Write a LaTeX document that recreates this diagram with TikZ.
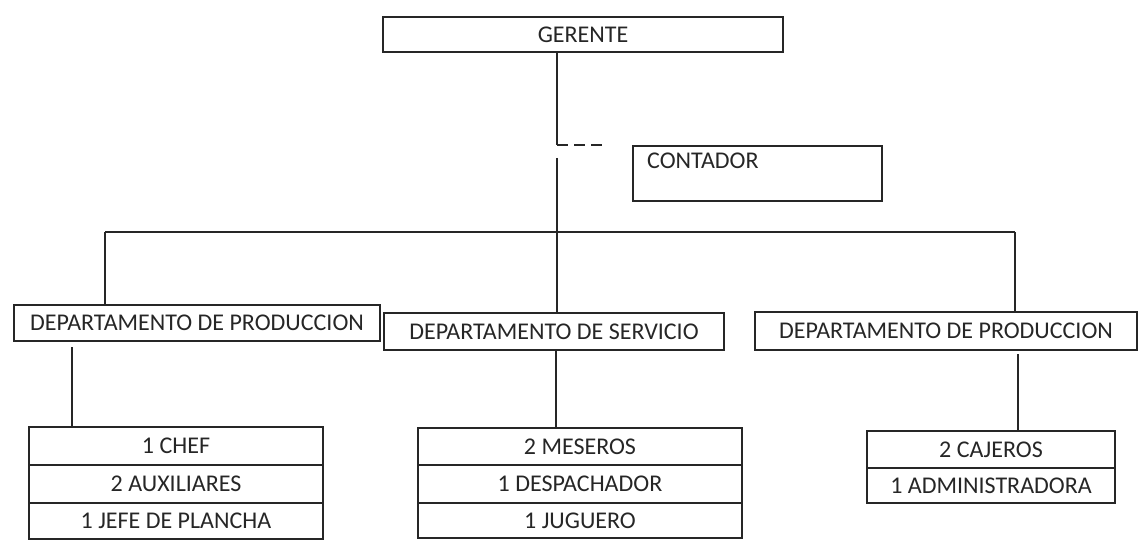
\documentclass[tikz,border=0pt]{standalone}
\usepackage{fontspec}
\setmainfont{Carlito}
\begin{document}
\begin{tikzpicture}[x=1pt,y=-1pt,
  box/.style={draw=black!85, line width=1.8pt, rectangle, inner sep=0pt, outer sep=0pt,
    font=\fontsize{24}{28}\selectfont, text=black!85},
  conn/.style={draw=black!85, line width=1.8pt}]
\useasboundingbox (0,0) rectangle (1139,548);
% top
\node[box, minimum width=400pt, minimum height=35pt] (ger) at (583,34.5) {GERENTE};
\node[box, minimum width=249pt, minimum height=55pt,
  label={[anchor=north west, inner sep=0pt, xshift=14pt, yshift=-7pt, font=\fontsize{24}{28}\selectfont, text=black!85]north west:CONTADOR}] (cont) at (757.5,173.5) {};
% departments
\node[box, minimum width=366pt, minimum height=36pt] (dpL) at (197,323) {DEPARTAMENTO DE PRODUCCION};
\node[box, minimum width=340pt, minimum height=37pt] (dpM) at (554,331.5) {DEPARTAMENTO DE SERVICIO};
\node[box, minimum width=382pt, minimum height=38pt] (dpR) at (946,331) {DEPARTAMENTO DE PRODUCCION};
% sub boxes left
\node[box, minimum width=294pt, minimum height=38pt] (sL1) at (176,446) {1 CHEF};
\node[box, minimum width=294pt, minimum height=38pt] (sL2) at (176,484) {2 AUXILIARES};
\node[box, minimum width=294pt, minimum height=36pt] (sL3) at (176,521) {1 JEFE DE PLANCHA};
% sub boxes middle
\node[box, minimum width=324pt, minimum height=37pt] (sM1) at (580,446.5) {2 MESEROS};
\node[box, minimum width=324pt, minimum height=38pt] (sM2) at (580,484) {1 DESPACHADOR};
\node[box, minimum width=324pt, minimum height=35pt] (sM3) at (580,520.5) {1 JUGUERO};
% sub boxes right
\node[box, minimum width=248pt, minimum height=37pt] (sR1) at (991,449.5) {2 CAJEROS};
\node[box, minimum width=248pt, minimum height=35pt] (sR2) at (991,485.5) {1 ADMINISTRADORA};
% coordinates
\coordinate (t1) at (557,145);
\coordinate (t2) at (557,158);
\coordinate (dashend) at (602,145);
\coordinate (hub) at (557,232);
\coordinate (barL) at (105,232);
\coordinate (barR) at (1015,232);
\coordinate (xl) at (72,0);
\coordinate (xm) at (556,0);
\coordinate (xr) at (1018,0);
% connectors
\draw[conn] (ger.south -| t1) -- (t1);
\draw[conn, dash pattern=on 11pt off 6pt] (t1) -- (dashend);
\draw[conn] (t2) -- (hub) -- (dpM.north -| hub);
\draw[conn] (barL) -- (barR);
\draw[conn] (barL) -- (dpL.north -| barL);
\draw[conn] (barR) -- (dpR.north -| barR);
\draw[conn, shorten <=6pt] (dpL.south -| xl) -- (sL1.north -| xl);
\draw[conn] (dpM.south -| xm) -- (sM1.north -| xm);
\draw[conn, shorten <=4pt] (dpR.south -| xr) -- (sR1.north -| xr);
\end{tikzpicture}
\end{document}
